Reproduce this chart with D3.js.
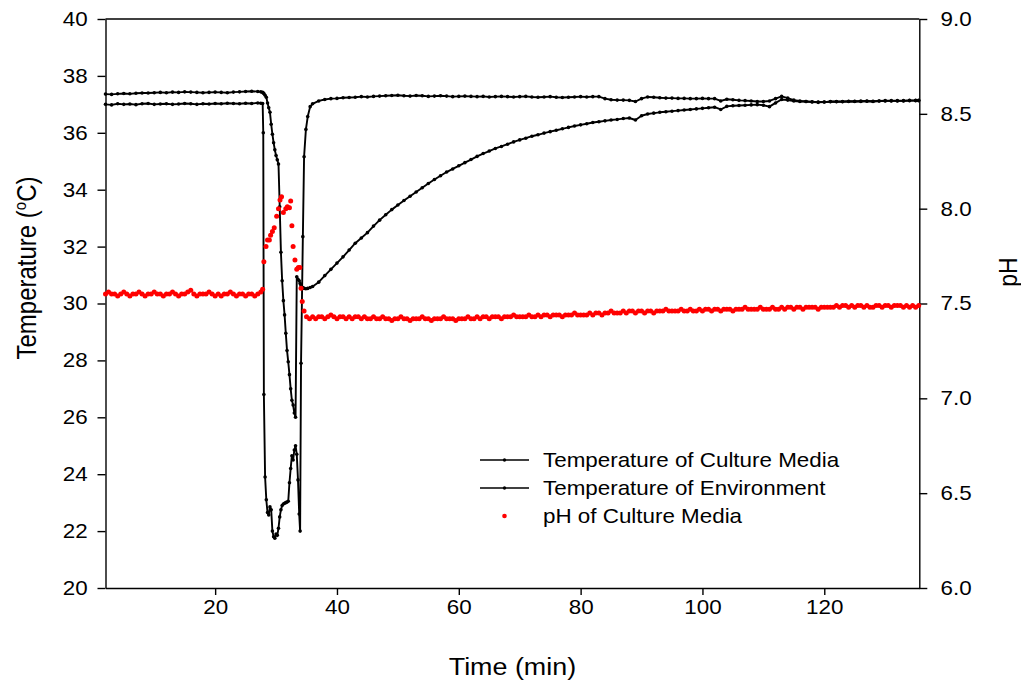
<!DOCTYPE html>
<html><head><meta charset="utf-8">
<script src="https://cdn.jsdelivr.net/npm/d3@7/dist/d3.min.js"></script>
<style>body{margin:0;background:#fff}svg{display:block}text{font-family:"Liberation Sans",Arial,Helvetica,sans-serif;fill:#000}</style>
</head><body>
<script>
// ---------- DATA ----------
const timeTicks = [20, 40, 60, 80, 100, 120];
const tempTicks = [20, 22, 24, 26, 28, 30, 32, 34, 36, 38, 40];
const phTicks = [6.0, 6.5, 7.0, 7.5, 8.0, 8.5, 9.0];

const tempTime = [
  2,3,4,5,6,7,8,9,10,11,12,13,14,15,16,17,18,19,20,21,22,23,24,25,26,27,
  27.5,27.8,27.9,28.0,28.2,28.4,28.6,28.8,29.0,29.2,29.4,29.6,29.8,30.0,30.2,30.4,30.6,30.8,31.0,31.2,
  31.4,31.6,31.8,32.0,32.2,32.4,32.6,32.8,33.0,33.2,33.4,33.6,33.8,33.95,34.1,34.4,34.6,34.9,35.2,35.6,
  36,37,38,39,40,41,42,43,44,45,46,47,48,49,50,51,52,53,54,55,56,57,58,59,60,
  61,62,63,64,65,66,67,68,69,70,71,72,73,74,75,76,77,78,79,80,81,82,83,84,85,
  86,87,88,89,90,91,92,93,94,95,96,97,98,99,100,101,102,103,104,105,106,107,108,109,110,
  111,112,113,114,115,116,117,118,119,120,121,122,123,124,125,126,127,128,129,130,
  131,132,133,134,135,135.5
];
const tempMedia = [
  37.36,37.35,37.37,37.38,37.37,37.39,37.40,37.40,37.41,37.42,37.41,37.43,37.42,37.44,37.43,37.42,37.41,37.42,37.43,37.42,37.41,37.43,37.44,37.45,37.46,37.45,
  37.44,37.42,37.40,37.38,37.32,37.25,37.05,36.88,36.72,36.30,35.95,35.65,35.40,35.20,35.05,34.90,33.40,31.80,30.80,30.10,
  29.60,28.95,28.35,27.95,27.50,27.00,26.60,26.43,26.15,26.00,30.94,30.85,30.80,30.70,30.62,30.56,30.53,30.52,30.53,30.56,
  30.60,30.75,30.98,31.20,31.42,31.64,31.88,32.12,32.30,32.49,32.72,32.93,33.12,33.30,33.46,33.62,33.77,33.92,34.07,34.22,34.36,34.49,34.62,34.73,34.84,
  34.95,35.06,35.17,35.27,35.36,35.45,35.52,35.60,35.68,35.75,35.81,35.88,35.93,35.99,36.04,36.09,36.14,36.19,36.24,36.28,36.32,36.36,36.39,36.42,36.45,
  36.47,36.50,36.52,36.45,36.60,36.66,36.69,36.72,36.74,36.76,36.78,36.80,36.82,36.84,36.86,36.88,36.90,36.82,36.93,36.95,36.96,36.97,36.98,36.99,36.97,
  36.92,37.05,37.17,37.15,37.12,37.10,37.10,37.09,37.08,37.08,37.09,37.10,37.09,37.10,37.11,37.10,37.12,37.11,37.12,37.12,
  37.13,37.12,37.13,37.14,37.13,37.14
];
const tempEnvironment = [
  37.00,36.98,37.02,37.00,37.01,36.99,37.02,37.03,37.00,37.01,37.02,37.00,37.01,37.03,37.02,37.00,37.02,37.01,37.03,37.02,37.04,37.03,37.02,37.04,37.03,37.05,
  37.04,37.03,36.00,26.80,23.90,23.10,22.65,22.57,22.85,22.75,22.00,21.80,21.75,21.90,21.85,22.10,22.50,22.75,22.90,22.95,
  22.98,23.00,23.02,23.05,23.70,24.20,24.65,24.50,24.85,25.00,24.70,23.80,22.60,22.00,27.90,32.35,35.16,36.12,36.57,36.92,
  37.02,37.12,37.17,37.20,37.21,37.23,37.24,37.25,37.27,37.26,37.28,37.29,37.30,37.31,37.32,37.30,37.29,37.31,37.30,37.28,37.29,37.30,37.29,37.27,37.28,
  37.29,37.28,37.27,37.28,37.26,37.27,37.28,37.27,37.26,37.27,37.28,37.26,37.25,37.26,37.27,37.25,37.24,37.25,37.26,37.27,37.26,37.27,37.27,37.20,37.16,
  37.15,37.15,37.14,37.10,37.20,37.26,37.25,37.23,37.22,37.22,37.21,37.21,37.20,37.20,37.21,37.20,37.20,37.12,37.18,37.16,37.14,37.13,37.12,37.10,37.10,
  37.12,37.20,37.28,37.22,37.15,37.12,37.10,37.08,37.07,37.08,37.10,37.09,37.10,37.11,37.10,37.12,37.11,37.10,37.12,37.13,
  37.12,37.13,37.12,37.13,37.14,37.13
];

const phTime = [
  2,2.5,3,3.5,4,4.5,5,5.5,6,6.5,
  7,7.5,8,8.5,9,9.5,10,10.5,11,11.5,
  12,12.5,13,13.5,14,14.5,15,15.5,16,16.5,
  17,17.5,18,18.5,19,19.5,20,20.5,21,21.5,
  22,22.5,23,23.5,24,24.5,25,25.5,26,26.5,
  27,27.5,
  27.8,28.0,28.35,28.6,28.9,29.1,29.4,29.7,30.1,30.4,30.65,30.9,31.2,31.6,31.85,32.2,32.4,32.6,32.8,33.1,
  33.4,33.66,33.9,34.1,34.3,34.6,35.0,35.5,
  36,36.5,37,37.5,38,38.5,39,39.5,40,40.5,
  41,41.5,42,42.5,43,43.5,44,44.5,45,45.5,
  46,46.5,47,47.5,48,48.5,49,49.5,50,50.5,
  51,51.5,52,52.5,53,53.5,54,54.5,55,55.5,
  56,56.5,57,57.5,58,58.5,59,59.5,60,60.5,
  61,61.5,62,62.5,63,63.5,64,64.5,65,65.5,
  66,66.5,67,67.5,68,68.5,69,69.5,70,70.5,
  71,71.5,72,72.5,73,73.5,74,74.5,75,75.5,
  76,76.5,77,77.5,78,78.5,79,79.5,80,80.5,
  81,81.5,82,82.5,83,83.5,84,84.5,85,85.5,
  86,86.5,87,87.5,88,88.5,89,89.5,90,90.5,
  91,91.5,92,92.5,93,93.5,94,94.5,95,95.5,
  96,96.5,97,97.5,98,98.5,99,99.5,100,100.5,
  101,101.5,102,102.5,103,103.5,104,104.5,105,105.5,
  106,106.5,107,107.5,108,108.5,109,109.5,110,110.5,
  111,111.5,112,112.5,113,113.5,114,114.5,115,115.5,
  116,116.5,117,117.5,118,118.5,119,119.5,120,120.5,
  121,121.5,122,122.5,123,123.5,124,124.5,125,125.5,
  126,126.5,127,127.5,128,128.5,129,129.5,130,130.5,
  131,131.5,132,132.5,133,133.5,134,134.5,135,135.5
];
const phMedia = [
  7.55,7.56,7.55,7.55,7.54,7.55,7.56,7.55,7.54,7.55,
  7.55,7.56,7.55,7.54,7.55,7.55,7.56,7.55,7.55,7.54,
  7.55,7.55,7.56,7.55,7.54,7.55,7.55,7.56,7.57,7.55,
  7.54,7.55,7.55,7.55,7.56,7.55,7.54,7.55,7.54,7.55,
  7.55,7.56,7.55,7.54,7.55,7.55,7.54,7.55,7.55,7.54,
  7.55,7.56,
  7.575,7.72,7.80,7.835,7.835,7.86,7.88,7.90,7.96,8.00,8.046,8.063,7.98,8.00,8.01,8.005,8.04,7.91,7.80,7.73,
  7.68,7.69,7.69,7.58,7.51,7.46,7.43,7.42,
  7.43,7.42,7.43,7.43,7.42,7.43,7.44,7.43,7.42,7.43,
  7.43,7.42,7.43,7.42,7.43,7.43,7.42,7.43,7.42,7.42,
  7.43,7.42,7.42,7.43,7.42,7.42,7.41,7.42,7.42,7.43,
  7.42,7.42,7.41,7.42,7.42,7.42,7.43,7.42,7.42,7.41,
  7.42,7.42,7.42,7.43,7.42,7.42,7.42,7.41,7.42,7.42,
  7.42,7.43,7.42,7.42,7.43,7.42,7.43,7.43,7.42,7.43,
  7.43,7.43,7.42,7.43,7.43,7.43,7.44,7.43,7.43,7.43,
  7.43,7.44,7.43,7.43,7.44,7.43,7.44,7.44,7.43,7.44,
  7.44,7.44,7.43,7.44,7.44,7.44,7.45,7.44,7.44,7.44,
  7.44,7.45,7.44,7.45,7.45,7.44,7.45,7.45,7.46,7.45,
  7.45,7.45,7.46,7.45,7.46,7.46,7.45,7.46,7.46,7.45,
  7.46,7.46,7.45,7.46,7.46,7.46,7.47,7.46,7.46,7.46,
  7.46,7.47,7.46,7.46,7.47,7.46,7.46,7.47,7.46,7.47,
  7.47,7.46,7.47,7.47,7.46,7.47,7.47,7.47,7.46,7.47,
  7.47,7.47,7.48,7.47,7.47,7.47,7.47,7.48,7.47,7.47,
  7.47,7.48,7.47,7.47,7.48,7.47,7.48,7.48,7.47,7.48,
  7.48,7.47,7.48,7.48,7.48,7.48,7.47,7.48,7.48,7.48,
  7.48,7.48,7.49,7.48,7.49,7.49,7.48,7.49,7.48,7.49,
  7.49,7.48,7.49,7.48,7.48,7.49,7.49,7.48,7.49,7.49,
  7.48,7.49,7.49,7.49,7.48,7.49,7.48,7.49,7.48,7.49
];

const legendLabels = ["Temperature of Culture Media", "Temperature of Environment", "pH of Culture Media"];

// ---------- CHART ----------
const W = 1021, H = 684;
const SX = 1.12; // horizontal glyph stretch seen in the reference
const svg = d3.select("body").append("svg").attr("width", W).attr("height", H);

const x = d3.scaleLinear().domain([2, 135.6]).range([105.5, 919.3]);
const yT = d3.scaleLinear().domain([20, 40]).range([588, 19]);
const yP = d3.scaleLinear().domain([6, 9]).range([588, 19]);

function styleAxis(g, fs) {
  g.select(".domain").attr("stroke", "#000").attr("stroke-width", 1.4);
  g.selectAll(".tick line").attr("stroke", "#000").attr("stroke-width", 1.4);
  g.selectAll(".tick text").attr("font-size", fs).attr("fill", "#000")
    .attr("font-family", "Liberation Sans, Arial, sans-serif")
    .attr("transform", `scale(${SX},1)`);
}

// frame top line
svg.append("line").attr("x1", x.range()[0]).attr("x2", x.range()[1])
  .attr("y1", yT.range()[1]).attr("y2", yT.range()[1])
  .attr("stroke", "#000").attr("stroke-width", 1.4);

const gx = svg.append("g").attr("transform", `translate(0,${yT.range()[0]})`)
  .call(d3.axisBottom(x).tickValues(timeTicks).tickSize(7).tickSizeOuter(0).tickPadding(5).tickFormat(d3.format("d")));
styleAxis(gx, 20);

const gl = svg.append("g").attr("transform", `translate(${x.range()[0]},0)`)
  .call(d3.axisLeft(yT).tickValues(tempTicks).tickSize(8).tickSizeOuter(0).tickPadding(8).tickFormat(d3.format("d")));
styleAxis(gl, 20);

const gr = svg.append("g").attr("transform", `translate(${x.range()[1]},0)`)
  .call(d3.axisRight(yP).tickValues(phTicks).tickSize(8).tickSizeOuter(0).tickPadding(11).tickFormat(d3.format(".1f")));
styleAxis(gr, 20);

// axis titles
svg.append("text").attr("text-anchor", "middle").attr("font-size", 24)
  .attr("transform", `translate(${(x.range()[0] + x.range()[1]) / 2},675) scale(${SX},1)`)
  .text("Time (min)");

const lt = svg.append("text").attr("text-anchor", "middle").attr("font-size", 24)
  .attr("transform", `translate(36,268) rotate(-90) scale(1,${SX})`);
lt.append("tspan").text("Temperature (");
lt.append("tspan").attr("dy", -9).attr("font-size", 15).text("o");
lt.append("tspan").attr("dy", 9).text("C)");

svg.append("text").attr("text-anchor", "middle").attr("font-size", 23)
  .attr("transform", `translate(1017,272) rotate(-90) scale(1,${SX})`)
  .text("pH");

// lines
const line = d3.line().x(d => x(d[0])).y(d => yT(d[1]));
const media = tempTime.map((t, i) => [t, tempMedia[i]]);
const env = tempTime.map((t, i) => [t, tempEnvironment[i]]);
const ph = phTime.map((t, i) => [t, phMedia[i]]);

[media, env].forEach(series => {
  svg.append("path").datum(series).attr("d", line)
    .attr("fill", "none").attr("stroke", "#000").attr("stroke-width", 1.9).attr("stroke-linejoin", "round");
  svg.append("g").selectAll("circle").data(series).join("circle")
    .attr("cx", d => x(d[0])).attr("cy", d => yT(d[1])).attr("r", 1.8).attr("fill", "#000");
});

svg.append("g").selectAll("circle").data(ph).join("circle")
  .attr("cx", d => x(d[0])).attr("cy", d => yP(d[1])).attr("r", 2.5).attr("fill", "#ff0000");

// legend
const lg = svg.append("g").attr("transform", "translate(480,460)");
legendLabels.forEach((lab, i) => {
  const gy = i * 28;
  if (i < 2) {
    lg.append("line").attr("x1", 0).attr("x2", 49).attr("y1", gy).attr("y2", gy)
      .attr("stroke", "#000").attr("stroke-width", 1.4);
    lg.append("circle").attr("cx", 24.5).attr("cy", gy).attr("r", 1.7).attr("fill", "#000");
  } else {
    lg.append("circle").attr("cx", 24.5).attr("cy", gy).attr("r", 2.3).attr("fill", "#ff0000");
  }
  lg.append("text").attr("font-size", 20)
    .attr("transform", `translate(63,${gy + 7}) scale(${SX},1)`).text(lab);
});
</script>
</body></html>
